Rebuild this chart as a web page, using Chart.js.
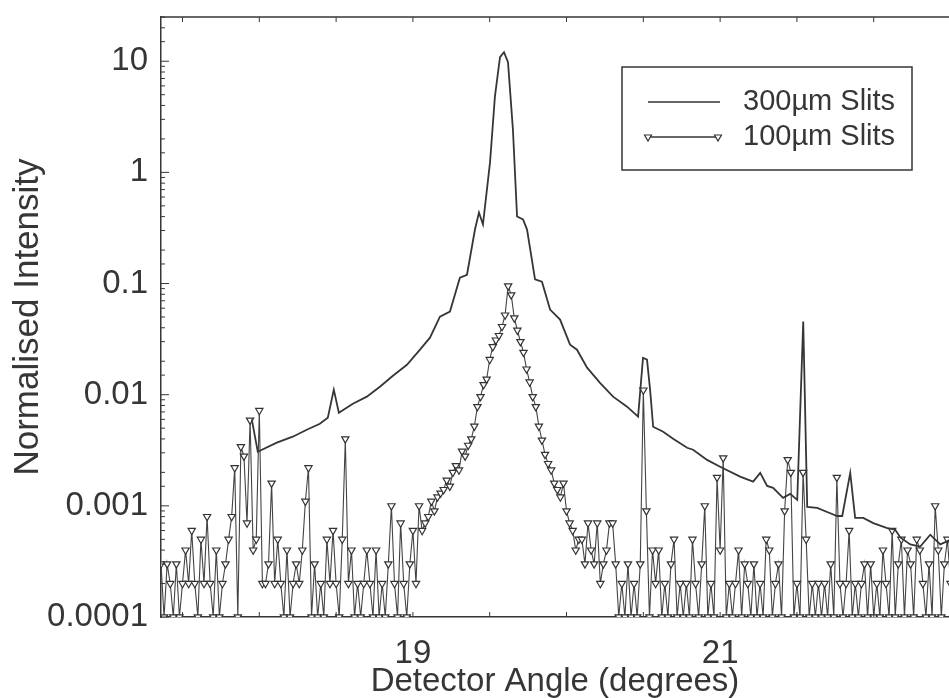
<!DOCTYPE html>
<html>
<head>
<meta charset="utf-8">
<script src="https://cdn.jsdelivr.net/npm/chart.js@4.4.0/dist/chart.umd.min.js"></script>
<style>
  html, body { margin: 0; padding: 0; background: #fff; }
  #wrap { width: 949px; height: 698px; }
</style>
</head>
<body>
<div id="wrap"><canvas id="scan-chart"></canvas></div>
<script>
// 300um slits - trace (detector angle in degrees)
const angle300 = [
  17.951, 17.990, 18.114, 18.218, 18.309, 18.394, 18.446, 18.485, 18.518, 18.609,
  18.700, 18.785, 18.870, 18.961, 19.046, 19.111, 19.176, 19.241, 19.306, 19.352,
  19.404, 19.430, 19.456, 19.502, 19.534, 19.567, 19.593, 19.619, 19.651, 19.678,
  19.717, 19.743, 19.795, 19.840, 19.893, 19.958, 20.023, 20.068, 20.134, 20.218,
  20.303, 20.394, 20.466, 20.498, 20.524, 20.544, 20.564, 20.629, 20.694, 20.785,
  20.824, 20.915, 21.000, 21.130, 21.215, 21.261, 21.306, 21.345, 21.410, 21.456,
  21.502, 21.541, 21.567, 21.632, 21.697, 21.762, 21.795, 21.847, 21.879, 21.932,
  21.997, 22.088, 22.140, 22.173, 22.238, 22.303, 22.368, 22.433, 22.492
];
const intensity300 = [
  0.0060, 0.00307, 0.0037, 0.00419, 0.00484, 0.00548, 0.0062, 0.0111, 0.00689, 0.0083,
  0.0096, 0.0118, 0.0148, 0.0186, 0.0254, 0.0326, 0.0504, 0.056, 0.113, 0.120,
  0.306, 0.436, 0.340, 1.23, 4.84, 10.9, 12.05, 9.8, 2.44, 0.401,
  0.377, 0.306, 0.109, 0.104, 0.0583, 0.0474, 0.0282, 0.0254, 0.0175, 0.0128,
  0.0096, 0.0078, 0.00634, 0.0215, 0.0207, 0.0111, 0.00515, 0.00464, 0.00401, 0.00333,
  0.0032, 0.00259, 0.00225, 0.00183, 0.00165, 0.00198, 0.00151, 0.00145, 0.00118, 0.00128,
  0.00113, 0.0455, 0.00098, 0.00096, 0.00088, 0.00081, 0.00081, 0.00198, 0.00078, 0.00078,
  0.00070, 0.00063, 0.00061, 0.00052, 0.00045, 0.00043, 0.00055, 0.00045, 0.00049
];

// 100um slits - one reading per scan step
const scanStart100 = 17.36;
const scanStep100 = 0.02;
const intensity100 = [
  0.0003, 0.0001, 0.0003, 0.0002, 0.0001, 0.0003, 0.0001, 0.0002, 0.0004, 0.0002,
  0.0006, 0.0002, 0.0001, 0.0005, 0.0002, 0.0008, 0.0002, 0.0001, 0.0004, 0.0001,
  0.0002, 0.0003, 0.0005, 0.0008, 0.0022, 0.0001, 0.0034, 0.0028, 0.0007, 0.0059,
  0.0004, 0.0005, 0.0072, 0.0002, 0.0002, 0.0003, 0.0016, 0.0002, 0.0005, 0.0002,
  0.0001, 0.0004, 0.0001, 0.0002, 0.0003, 0.0002, 0.0004, 0.0011, 0.0022, 0.0001,
  0.0003, 0.0001, 0.0002, 0.0001, 0.0005, 0.0002, 0.0006, 0.0002, 0.0001, 0.0005,
  0.0040, 0.0002, 0.0004, 0.0001, 0.0002, 0.0001, 0.0002, 0.0004, 0.0002, 0.0001,
  0.0004, 0.0001, 0.0002, 0.0001, 0.0003, 0.0010, 0.0002, 0.0001, 0.0007, 0.0002,
  0.0001, 0.0003, 0.0006, 0.0002, 0.0010, 0.0006, 0.0007, 0.0008, 0.0011, 0.0009,
  0.0012, 0.0013, 0.0014, 0.0017, 0.0015, 0.0020, 0.0023, 0.0021, 0.0031, 0.0028,
  0.0035, 0.0040, 0.0052, 0.0078, 0.0096, 0.0123, 0.0138, 0.0207, 0.027, 0.031,
  0.034, 0.041, 0.052, 0.095, 0.079, 0.049, 0.038, 0.030, 0.024, 0.017,
  0.013, 0.0096, 0.0078, 0.0052, 0.0039, 0.0029, 0.0024, 0.0021, 0.0016, 0.0014,
  0.0012, 0.0016, 0.0009, 0.0007, 0.0006, 0.0004, 0.0005, 0.0005, 0.0003, 0.0007,
  0.0004, 0.0003, 0.0007, 0.0002, 0.0003, 0.0004, 0.0007, 0.0007, 0.0003, 0.0001,
  0.0002, 0.0001, 0.0003, 0.0001, 0.0002, 0.0001, 0.0003, 0.0110, 0.0009, 0.0001,
  0.0004, 0.0002, 0.0004, 0.0001, 0.0002, 0.0001, 0.0003, 0.0005, 0.0001, 0.0002,
  0.0001, 0.0002, 0.0001, 0.0005, 0.0002, 0.0001, 0.0003, 0.0010, 0.0001, 0.0002,
  0.0001, 0.0018, 0.0004, 0.0027, 0.0001, 0.0002, 0.0001, 0.0002, 0.0004, 0.0001,
  0.0003, 0.0002, 0.0001, 0.0003, 0.0001, 0.0002, 0.0001, 0.0005, 0.0004, 0.0001,
  0.0002, 0.0003, 0.0001, 0.0009, 0.0026, 0.0020, 0.0001, 0.0002, 0.0001, 0.0020,
  0.0005, 0.0001, 0.0002, 0.0001, 0.0002, 0.0001, 0.0002, 0.0001, 0.0003, 0.0001,
  0.0018, 0.0002, 0.0001, 0.0002, 0.0006, 0.0001, 0.0002, 0.0001, 0.0002, 0.0003,
  0.0001, 0.0003, 0.0001, 0.0002, 0.0001, 0.0004, 0.0002, 0.0001, 0.0006, 0.0001,
  0.0003, 0.0005, 0.0001, 0.0004, 0.0003, 0.0001, 0.0005, 0.0004, 0.0002, 0.0001,
  0.0003, 0.0001, 0.0010, 0.0004, 0.0001, 0.0003, 0.0005, 0.0002
];

const xTickLabels = [19, 21];
const yTickLabels = ['10', '1', '0.1', '0.01', '0.001', '0.0001'];
const seriesLabels = ['300µm Slits', '100µm Slits'];

const ink = '#363636';
const family = "'Liberation Sans', Arial, sans-serif";

function fmtLog(v) {
  const e = Math.round(Math.log10(v));
  if (Math.abs(Math.log10(v) - e) > 1e-9) return '';
  return e >= 0 ? String(Math.pow(10, e)) : Math.pow(10, e).toFixed(-e);
}

const points300 = angle300.map(function(a, i) { return {x: a, y: intensity300[i]}; });
const points100 = intensity100.map(function(v, i) {
  return {x: +(scanStart100 + i * scanStep100).toFixed(2), y: v};
});

// frame on top + inward tick marks, like the original plot
const frameTicks = {
  id: 'frameTicks',
  afterDraw(chart) {
    const ctx = chart.ctx, a = chart.chartArea;
    const x = chart.scales.x, y = chart.scales.y;
    ctx.save();
    ctx.strokeStyle = ink;
    ctx.lineWidth = 1.5;
    ctx.beginPath();
    ctx.moveTo(a.left, a.top);
    ctx.lineTo(a.right, a.top);
    ctx.stroke();
    ctx.lineWidth = 1;
    y.ticks.forEach(function(t) {
      if (t.value > y.max) return;
      const py = y.getPixelForValue(t.value);
      const len = fmtLog(t.value) ? 8 : 4;
      ctx.beginPath();
      ctx.moveTo(a.left, py);
      ctx.lineTo(a.left + len, py);
      ctx.stroke();
    });
    x.ticks.forEach(function(t) {
      const px = x.getPixelForValue(t.value);
      ctx.beginPath();
      ctx.moveTo(px, a.top);
      ctx.lineTo(px, a.top + 5);
      ctx.moveTo(px, a.bottom);
      ctx.lineTo(px, a.bottom - 5);
      ctx.stroke();
    });
    ctx.restore();
  }
};

function downTriangle(ctx, cx, cy, r) {
  ctx.beginPath();
  ctx.moveTo(cx - r * 0.866, cy - r * 0.5);
  ctx.lineTo(cx + r * 0.866, cy - r * 0.5);
  ctx.lineTo(cx, cy + r);
  ctx.closePath();
  ctx.fillStyle = '#fff';
  ctx.fill();
  ctx.stroke();
}

// boxed legend inside the plot, top right
const legendBox = {
  id: 'legendBox',
  afterDraw(chart) {
    const ctx = chart.ctx;
    const bx = 622, by = 67, bw = 290, bh = 103;
    ctx.save();
    ctx.fillStyle = '#fff';
    ctx.fillRect(bx, by, bw, bh);
    ctx.strokeStyle = ink;
    ctx.lineWidth = 1.5;
    ctx.strokeRect(bx, by, bw, bh);

    ctx.lineWidth = 1.4;
    ctx.beginPath();
    ctx.moveTo(648, 102); ctx.lineTo(720, 102);
    ctx.moveTo(648, 137); ctx.lineTo(718, 137);
    ctx.stroke();
    ctx.lineWidth = 1.2;
    downTriangle(ctx, 648, 137, 4);
    downTriangle(ctx, 718, 137, 4);

    ctx.fillStyle = ink;
    ctx.font = '29px ' + family;
    ctx.textBaseline = 'middle';
    ctx.textAlign = 'left';
    ctx.fillText(seriesLabels[0], 743, 102);
    ctx.fillText(seriesLabels[1], 743, 137);
    ctx.restore();
  }
};

new Chart(document.getElementById('scan-chart'), {
  type: 'line',
  data: {
    datasets: [
      {
        label: seriesLabels[0],
        data: points300,
        borderColor: ink,
        borderWidth: 1.8,
        pointRadius: 0,
        tension: 0,
        order: 0
      },
      {
        label: seriesLabels[1],
        data: points100,
        borderColor: '#444',
        borderWidth: 1.1,
        pointStyle: 'triangle',
        pointRotation: 180,
        pointRadius: 4.2,
        pointBackgroundColor: '#fff',
        pointBorderColor: '#333',
        pointBorderWidth: 1.2,
        tension: 0,
        order: 1
      }
    ]
  },
  options: {
    responsive: true,
    maintainAspectRatio: false,
    animation: false,
    layout: { autoPadding: false, padding: { top: 17, right: 0, bottom: 0, left: 0 } },
    plugins: { legend: { display: false }, tooltip: { enabled: false } },
    scales: {
      x: {
        type: 'linear',
        min: 17.36,
        max: 22.49,
        grid: { display: false },
        border: { display: true, color: ink, width: 1.5 },
        ticks: {
          stepSize: 0.5,
          includeBounds: false,
          autoSkip: false,
          maxRotation: 0,
          padding: 9,
          color: ink,
          font: { family: family, size: 33 },
          callback: function(v) { return xTickLabels.includes(v) ? String(v) : ''; }
        },
        title: {
          display: true,
          text: 'Detector Angle (degrees)',
          color: ink,
          font: { family: family, size: 33 },
          padding: { top: 0, bottom: -4 }
        },
        afterFit: function(s) { s.height = 81; s.paddingLeft = 0; s.paddingRight = 0; }
      },
      y: {
        type: 'logarithmic',
        min: 0.0001,
        max: 25,
        grid: { display: false },
        border: { display: true, color: ink, width: 1.5 },
        ticks: {
          autoSkip: false,
          padding: 5,
          color: ink,
          font: { family: family, size: 33 },
          callback: function(v) {
            const s = fmtLog(v);
            return yTickLabels.includes(s) ? s : '';
          }
        },
        title: {
          display: true,
          text: 'Normalised Intensity',
          color: ink,
          font: { family: family, size: 35 },
          padding: { top: 7, bottom: 0 }
        },
        afterFit: function(s) { s.width = 161; s.paddingTop = 0; s.paddingBottom = 0; }
      }
    }
  },
  plugins: [frameTicks, legendBox]
});
</script>
</body>
</html>
